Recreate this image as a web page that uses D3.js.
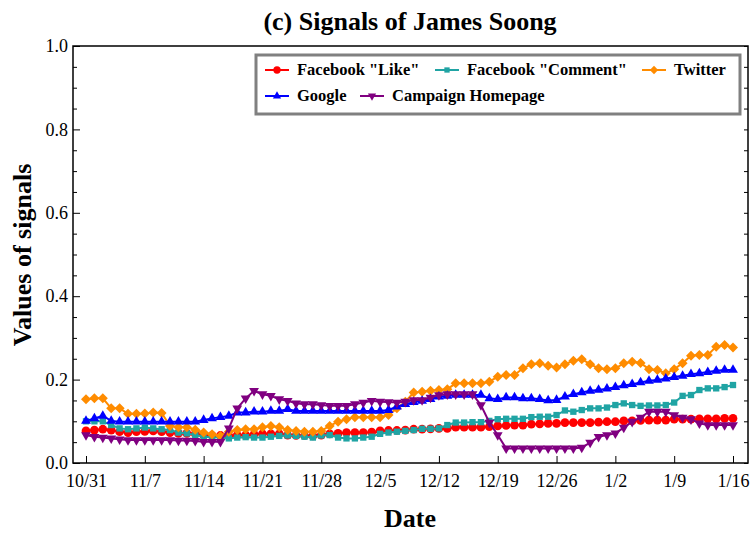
<!DOCTYPE html>
<html>
<head>
<meta charset="utf-8">
<script src="https://d3js.org/d3.v7.min.js"></script>
<style>
  body { margin: 0; background: #fff; }
  svg text { font-family: "Liberation Serif", "Times New Roman", serif; fill: #000; }
</style>
</head>
<body>
<svg id="chart" width="753" height="534"></svg>
<script>
// one value per day, 10/31 to 1/16
var startDate = new Date(2015, 9, 31);
var endDate = new Date(2016, 0, 16);
var dates = d3.timeDay.range(startDate, d3.timeDay.offset(endDate, 1));

var likeVals = [0.077, 0.079, 0.081, 0.079, 0.075, 0.073, 0.075, 0.076, 0.077, 0.075,
  0.073, 0.071, 0.071, 0.070, 0.067, 0.066, 0.066, 0.065, 0.067, 0.067,
  0.069, 0.070, 0.070, 0.070, 0.067, 0.066, 0.066, 0.065, 0.067, 0.070,
  0.071, 0.073, 0.073, 0.073, 0.074, 0.077, 0.078, 0.078, 0.079, 0.081,
  0.081, 0.082, 0.083, 0.083, 0.086, 0.086, 0.086, 0.086, 0.087, 0.089,
  0.090, 0.091, 0.091, 0.093, 0.094, 0.095, 0.095, 0.097, 0.097, 0.097,
  0.097, 0.098, 0.099, 0.099, 0.101, 0.101, 0.102, 0.103, 0.103, 0.103,
  0.105, 0.105, 0.105, 0.106, 0.106, 0.106, 0.107, 0.107];

var commentVals = [0.100, 0.100, 0.100, 0.091, 0.083, 0.081, 0.083, 0.085, 0.083, 0.081,
  0.079, 0.073, 0.071, 0.067, 0.063, 0.062, 0.061, 0.059, 0.061, 0.062,
  0.061, 0.061, 0.063, 0.065, 0.066, 0.065, 0.063, 0.061, 0.066, 0.067,
  0.061, 0.059, 0.059, 0.061, 0.063, 0.070, 0.073, 0.075, 0.077, 0.079,
  0.082, 0.082, 0.083, 0.091, 0.097, 0.097, 0.098, 0.098, 0.101, 0.105,
  0.106, 0.106, 0.106, 0.110, 0.111, 0.111, 0.115, 0.126, 0.123, 0.127,
  0.131, 0.131, 0.133, 0.139, 0.143, 0.139, 0.137, 0.138, 0.138, 0.139,
  0.145, 0.161, 0.163, 0.175, 0.179, 0.179, 0.182, 0.187];

var twitterVals = [0.153, 0.155, 0.155, 0.131, 0.131, 0.118, 0.118, 0.119, 0.121, 0.120,
  0.089, 0.086, 0.086, 0.080, 0.073, 0.069, 0.065, 0.075, 0.079, 0.081,
  0.081, 0.086, 0.089, 0.086, 0.079, 0.077, 0.075, 0.075, 0.077, 0.089,
  0.099, 0.105, 0.110, 0.110, 0.110, 0.110, 0.115, 0.131, 0.147, 0.169,
  0.171, 0.173, 0.175, 0.177, 0.191, 0.191, 0.191, 0.191, 0.195, 0.207,
  0.211, 0.211, 0.227, 0.237, 0.239, 0.233, 0.229, 0.237, 0.245, 0.249,
  0.237, 0.227, 0.225, 0.227, 0.239, 0.243, 0.240, 0.225, 0.223, 0.215,
  0.225, 0.239, 0.257, 0.259, 0.259, 0.279, 0.283, 0.277];

var googleVals = [0.101, 0.107, 0.113, 0.101, 0.099, 0.099, 0.099, 0.099, 0.099, 0.099,
  0.099, 0.099, 0.099, 0.099, 0.103, 0.107, 0.110, 0.113, 0.121, 0.121,
  0.123, 0.123, 0.125, 0.125, 0.129, 0.125, 0.125, 0.125, 0.125, 0.125,
  0.125, 0.125, 0.125, 0.125, 0.125, 0.125, 0.127, 0.135, 0.141, 0.146,
  0.149, 0.153, 0.159, 0.161, 0.163, 0.163, 0.163, 0.163, 0.155, 0.153,
  0.157, 0.157, 0.155, 0.155, 0.153, 0.150, 0.151, 0.159, 0.165, 0.169,
  0.173, 0.175, 0.178, 0.182, 0.186, 0.189, 0.193, 0.197, 0.199, 0.202,
  0.206, 0.209, 0.213, 0.215, 0.218, 0.221, 0.223, 0.223];

var homepageVals = [0.067, 0.063, 0.061, 0.059, 0.057, 0.055, 0.055, 0.055, 0.055, 0.055,
  0.055, 0.054, 0.054, 0.053, 0.051, 0.051, 0.051, 0.083, 0.131, 0.155,
  0.173, 0.165, 0.161, 0.153, 0.149, 0.143, 0.141, 0.141, 0.139, 0.137,
  0.137, 0.137, 0.141, 0.145, 0.149, 0.147, 0.146, 0.145, 0.147, 0.151,
  0.151, 0.157, 0.163, 0.165, 0.165, 0.165, 0.165, 0.139, 0.097, 0.067,
  0.035, 0.035, 0.035, 0.035, 0.035, 0.035, 0.035, 0.035, 0.035, 0.037,
  0.049, 0.063, 0.067, 0.071, 0.085, 0.099, 0.109, 0.123, 0.123, 0.123,
  0.115, 0.109, 0.105, 0.095, 0.091, 0.091, 0.091, 0.091];

var seriesNames = ['Facebook "Like"', 'Facebook "Comment"', 'Twitter', 'Google', 'Campaign Homepage'];
var seriesColors = ['#ff0000', '#20a4a4', '#ff8c00', '#0000ff', '#800080'];
var yTicks = [0.0, 0.2, 0.4, 0.6, 0.8, 1.0];

var series = [likeVals, commentVals, twitterVals, googleVals, homepageVals].map(function (vals, i) {
  return { name: seriesNames[i], color: seriesColors[i], values: vals };
});

//
// geometry (plot frame)
//
var plotLeft = 73, plotRight = 748, plotTop = 46, plotBottom = 463;

var svg = d3.select('#chart');

var x = d3.scaleTime()
  .domain([startDate, endDate])
  .range([86, 733]);

var y = d3.scaleLinear()
  .domain([0, 1])
  .range([plotBottom, plotTop]);

// marker for each series
var markers = [
  { type: d3.symbolCircle, size: 60, rot: 0 },
  { type: d3.symbolSquare, size: 40, rot: 0 },
  { type: d3.symbolSquare, size: 50, rot: 45 },
  { type: d3.symbolTriangle, size: 42, rot: 0 },
  { type: d3.symbolTriangle, size: 42, rot: 180 }
];

//
// axes (ticks point inward)
//
var xTickVals = d3.timeDay.range(startDate, d3.timeDay.offset(endDate, 1), 7);

var xAxis = svg.append('g')
  .attr('transform', 'translate(0,' + plotBottom + ')')
  .call(d3.axisBottom(x).tickValues(xTickVals).tickFormat(d3.timeFormat('%-m/%-d'))
    .tickSizeInner(-7).tickSizeOuter(0).tickPadding(11));
xAxis.select('.domain').remove();
xAxis.selectAll('text').style('font-size', '18px');

var yAxis = svg.append('g')
  .attr('transform', 'translate(' + plotLeft + ',0)')
  .call(d3.axisLeft(y).tickValues(yTicks).tickFormat(d3.format('.1f'))
    .tickSizeInner(-7).tickSizeOuter(0).tickPadding(5));
yAxis.select('.domain').remove();
yAxis.selectAll('text').style('font-size', '18px');

// minor y ticks on both sides
var minorY = d3.range(0.05, 1, 0.05).filter(function (v) { return Math.abs(v * 5 - Math.round(v * 5)) > 1e-6; });
svg.append('g')
  .attr('transform', 'translate(' + plotLeft + ',0)')
  .call(d3.axisLeft(y).tickValues(minorY).tickFormat('').tickSizeInner(-4).tickSizeOuter(0))
  .select('.domain').remove();
svg.append('g')
  .attr('transform', 'translate(' + plotRight + ',0)')
  .call(d3.axisRight(y).tickValues(yTicks.concat(minorY)).tickFormat('').tickSizeInner(-4).tickSizeOuter(0))
  .select('.domain').remove();

// frame
svg.append('rect')
  .attr('x', plotLeft).attr('y', plotTop)
  .attr('width', plotRight - plotLeft).attr('height', plotBottom - plotTop)
  .attr('fill', 'none').attr('stroke', '#000').attr('stroke-width', 1.5);

//
// lines and markers
//
var line = d3.line()
  .x(function (d, i) { return x(dates[i]); })
  .y(function (d) { return y(d); });

series.forEach(function (s, k) {
  var g = svg.append('g').attr('class', 'series');
  g.append('path')
    .attr('d', line(s.values))
    .attr('fill', 'none')
    .attr('stroke', s.color)
    .attr('stroke-width', 2);

  var m = markers[k];
  g.selectAll('path.pt')
    .data(s.values)
    .enter().append('path')
    .attr('class', 'pt')
    .attr('d', d3.symbol().type(m.type).size(m.size))
    .attr('transform', function (d, i) {
      return 'translate(' + x(dates[i]) + ',' + y(d) + ') rotate(' + m.rot + ')';
    })
    .attr('fill', s.color);
});

//
// legend
//
var legend = svg.append('g');
legend.append('rect')
  .attr('x', 256).attr('y', 55)
  .attr('width', 484).attr('height', 59)
  .attr('fill', '#fff').attr('stroke', '#808080').attr('stroke-width', 3);

var legendPos = [
  { lx: 265, ly: 70 }, { lx: 435, ly: 70 }, { lx: 642, ly: 70 },
  { lx: 265, ly: 96 }, { lx: 360, ly: 96 }
];

series.forEach(function (s, k) {
  var p = legendPos[k], m = markers[k];
  legend.append('line')
    .attr('x1', p.lx).attr('x2', p.lx + 24)
    .attr('y1', p.ly).attr('y2', p.ly)
    .attr('stroke', s.color).attr('stroke-width', 2);
  legend.append('path')
    .attr('d', d3.symbol().type(m.type).size(m.size * 0.7))
    .attr('transform', 'translate(' + (p.lx + 12) + ',' + p.ly + ') rotate(' + m.rot + ')')
    .attr('fill', s.color);
  legend.append('text')
    .attr('x', p.lx + 32).attr('y', p.ly + 5)
    .style('font-size', '16.5px').style('font-weight', 'bold')
    .text(s.name);
});

//
// titles
//
svg.append('text')
  .attr('x', 410).attr('y', 30)
  .attr('text-anchor', 'middle')
  .style('font-size', '26px').style('font-weight', 'bold')
  .text('(c) Signals of James Soong');

svg.append('text')
  .attr('x', 410).attr('y', 527)
  .attr('text-anchor', 'middle')
  .style('font-size', '26px').style('font-weight', 'bold')
  .text('Date');

svg.append('text')
  .attr('transform', 'translate(31,255) rotate(-90)')
  .attr('text-anchor', 'middle')
  .style('font-size', '26px').style('font-weight', 'bold')
  .text('Values of signals');
</script>
</body>
</html>
